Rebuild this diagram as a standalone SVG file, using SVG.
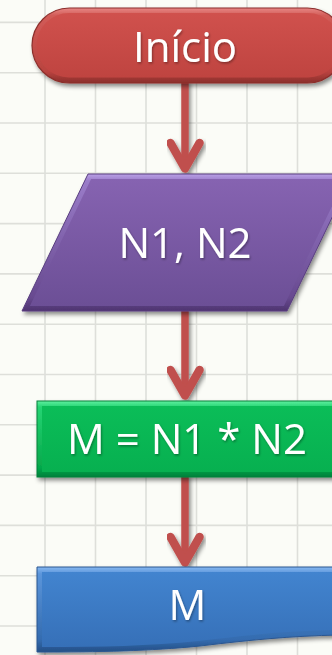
<svg xmlns="http://www.w3.org/2000/svg" width="332" height="655" viewBox="0 0 332 655">
<style>
.grid line{stroke:#dedfda;stroke-width:1.6}
.lbl{font-family:"Open Sans","Noto Sans","Liberation Sans",sans-serif;font-size:42px;fill:#ffffff;text-anchor:middle}
.shaft{stroke:#c0504d;stroke-width:7.5;fill:none}
.head{stroke:#c0504d;stroke-width:8.5;fill:none;stroke-linecap:round;stroke-linejoin:round}
</style>
<defs>
<filter id="sh" x="-10%" y="-10%" width="130%" height="140%">
<feDropShadow dx="2" dy="3" stdDeviation="2.2" flood-color="#000" flood-opacity="0.45"/>
</filter>
<filter id="tsh" x="-10%" y="-10%" width="130%" height="140%">
<feDropShadow dx="1" dy="1.5" stdDeviation="1" flood-color="#000" flood-opacity="0.35"/>
</filter>
<linearGradient id="rO" x1="0" y1="0" x2="0" y2="1">
<stop offset="0" stop-color="#e88784"/><stop offset="0.1" stop-color="#d25c58"/><stop offset="0.85" stop-color="#b9433f"/><stop offset="1" stop-color="#8a2e2b"/>
</linearGradient>
<linearGradient id="rI" x1="0" y1="0" x2="0" y2="1">
<stop offset="0" stop-color="#d0514d"/><stop offset="1" stop-color="#bf4440"/>
</linearGradient>
<linearGradient id="pO" x1="0" y1="0" x2="0" y2="1">
<stop offset="0" stop-color="#b9a0e6"/><stop offset="0.05" stop-color="#9a7cc9"/><stop offset="0.9" stop-color="#684a90"/><stop offset="1" stop-color="#4e3470"/>
</linearGradient>
<linearGradient id="pI" x1="0" y1="0" x2="0" y2="1">
<stop offset="0" stop-color="#8663b1"/><stop offset="1" stop-color="#6c4f96"/>
</linearGradient>
<linearGradient id="gO" x1="0" y1="0" x2="0" y2="1">
<stop offset="0" stop-color="#5ff0a0"/><stop offset="0.08" stop-color="#26d473"/><stop offset="0.88" stop-color="#05a84b"/><stop offset="1" stop-color="#04803a"/>
</linearGradient>
<linearGradient id="gI" x1="0" y1="0" x2="0" y2="1">
<stop offset="0" stop-color="#0bbd58"/><stop offset="1" stop-color="#07b050"/>
</linearGradient>
<linearGradient id="bO" x1="0" y1="0" x2="0" y2="1">
<stop offset="0" stop-color="#86b7f0"/><stop offset="0.08" stop-color="#5b95da"/><stop offset="0.85" stop-color="#346cb0"/><stop offset="1" stop-color="#244f86"/>
</linearGradient>
<linearGradient id="bI" x1="0" y1="0" x2="0" y2="1">
<stop offset="0" stop-color="#4284cf"/><stop offset="1" stop-color="#3670b8"/>
</linearGradient>
</defs>
<rect x="0" y="0" width="332" height="655" fill="#fbfcf7"/>
<g class="grid">
<line x1="45" y1="0" x2="45" y2="655"/>
<line x1="95.5" y1="0" x2="95.5" y2="655"/>
<line x1="146" y1="0" x2="146" y2="655"/>
<line x1="196.5" y1="0" x2="196.5" y2="655"/>
<line x1="247" y1="0" x2="247" y2="655"/>
<line x1="297.5" y1="0" x2="297.5" y2="655"/>
<line x1="0" y1="22.4" x2="332" y2="22.4"/>
<line x1="0" y1="72.7" x2="332" y2="72.7"/>
<line x1="0" y1="123" x2="332" y2="123"/>
<line x1="0" y1="173.3" x2="332" y2="173.3"/>
<line x1="0" y1="223.6" x2="332" y2="223.6"/>
<line x1="0" y1="273.9" x2="332" y2="273.9"/>
<line x1="0" y1="324.2" x2="332" y2="324.2"/>
<line x1="0" y1="374.5" x2="332" y2="374.5"/>
<line x1="0" y1="424.8" x2="332" y2="424.8"/>
<line x1="0" y1="475.1" x2="332" y2="475.1"/>
<line x1="0" y1="525.4" x2="332" y2="525.4"/>
<line x1="0" y1="575.7" x2="332" y2="575.7"/>
<line x1="0" y1="626" x2="332" y2="626"/>
</g>
<g id="connectors" filter="url(#sh)">
<line class="shaft" x1="185" y1="80" x2="185" y2="166"/>
<polyline class="head" points="170.5,143 185,168.5 199.5,143"/>
<line class="shaft" x1="185" y1="308" x2="185" y2="393"/>
<polyline class="head" points="170.5,370 185,395.5 199.5,370"/>
<line class="shaft" x1="185" y1="474" x2="185" y2="560"/>
<polyline class="head" points="170.5,537 185,562.5 199.5,537"/>
</g>
<g id="inicio">
<rect x="32" y="8" width="313" height="75" rx="37.5" fill="url(#rO)" stroke="#8c2f2c" stroke-width="1.2" filter="url(#sh)"/>
<rect x="36.5" y="13" width="304" height="64.5" rx="32.5" fill="url(#rI)"/>
<text class="lbl" x="185" y="62" filter="url(#tsh)">Início</text>
</g>
<g id="entrada">
<polygon points="88,174 353,174 287,311 22,311" fill="url(#pO)" stroke="#5a3f80" stroke-width="1" filter="url(#sh)"/>
<polygon points="91.1,179 345.1,179 283.9,306 29.9,306" fill="url(#pI)"/>
<text class="lbl" x="185" y="258" filter="url(#tsh)">N1, N2</text>
</g>
<g id="processo">
<rect x="37" y="401" width="300" height="76" fill="url(#gO)" stroke="#06803a" stroke-width="1" filter="url(#sh)"/>
<rect x="42" y="406" width="290" height="66" fill="url(#gI)"/>
<text class="lbl" x="187" y="454" filter="url(#tsh)">M = N1 * N2</text>
</g>
<g id="saida">
<path d="M37,567 H340 V635 C290,636 250,640 200,646 C150,651 100,652 37,652 Z" fill="url(#bO)" stroke="#2a5690" stroke-width="1" filter="url(#sh)"/>
<path d="M42,572 H335 V630 C288,631 248,635 198,641 C150,646 100,647 42,647 Z" fill="url(#bI)"/>
<text class="lbl" x="187.5" y="620" filter="url(#tsh)">M</text>
</g>
</svg>
